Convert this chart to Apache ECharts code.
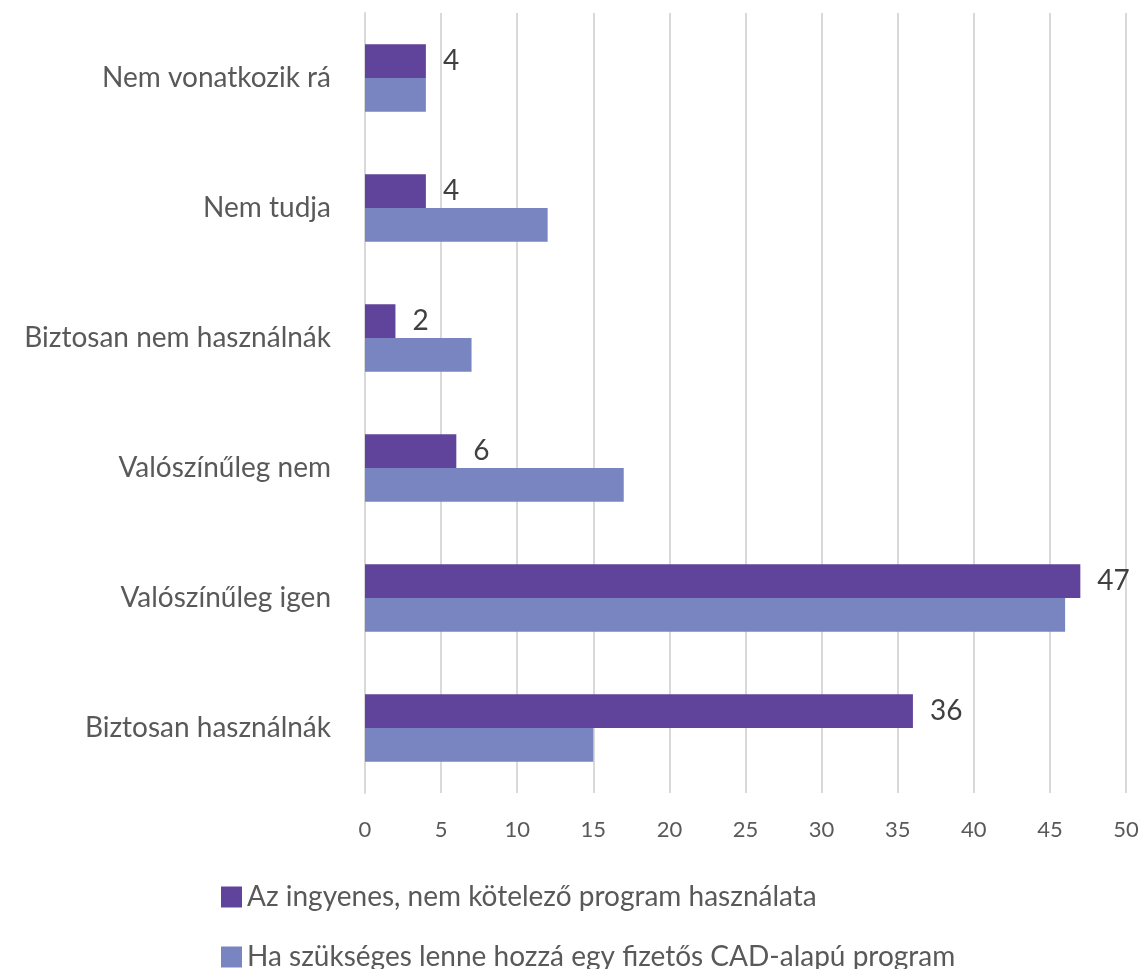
<!DOCTYPE html>
<html>
<head>
<meta charset="utf-8">
<script src="https://cdn.jsdelivr.net/npm/echarts@6/dist/echarts.min.js"></script>
<style>
  html, body { margin: 0; padding: 0; background: #fff; }
  #chart { width: 1143px; height: 969px; }
</style>
</head>
<body>
<div id="chart"></div>
<script>
// categories top to bottom
var categories = ['Nem vonatkozik rá', 'Nem tudja', 'Biztosan nem használnák', 'Valószínűleg nem', 'Valószínűleg igen', 'Biztosan használnák'];
var seriesNames = ['Az ingyenes, nem kötelező program használata', 'Ha szükséges lenne hozzá egy fizetős CAD-alapú program'];
var freeValues = [4, 4, 2, 6, 47, 36];
var paidValues = [4, 12, 7, 17, 46, 15];

var font = 'Lato, "Open Sans", sans-serif';
var legendBase = {
  orient: 'horizontal',
  left: 216,
  itemWidth: 21,
  itemHeight: 21,
  icon: 'rect',
  textStyle: { fontSize: 28, color: '#595959', fontFamily: font }
};
var chart = echarts.init(document.getElementById('chart'));
chart.setOption({
  animation: false,
  textStyle: { fontFamily: font },
  grid: { left: 365, right: 17, top: 13, bottom: 176, containLabel: false },
  legend: [
    Object.assign({}, legendBase, { top: 878, data: [seriesNames[0]] }),
    Object.assign({}, legendBase, { top: 938, data: [seriesNames[1]] })
  ],
  xAxis: {
    type: 'value',
    min: 0, max: 50, interval: 5,
    axisLine: { show: false },
    axisTick: { show: false },
    axisLabel: { fontSize: 22, color: '#595959', margin: 26 },
    splitLine: { lineStyle: { color: '#d9d9d9', width: 2 } }
  },
  yAxis: {
    type: 'category',
    inverse: true,
    data: categories,
    axisLine: { lineStyle: { color: '#d9d9d9', width: 2 } },
    axisTick: { show: false },
    axisLabel: { fontSize: 28, color: '#595959', margin: 34 }
  },
  series: [
    {
      name: seriesNames[0],
      type: 'bar',
      data: freeValues,
      barGap: '0%',
      barCategoryGap: '48%',
      itemStyle: { color: '#60439a' },
      label: { show: true, position: 'right', distance: 17, fontSize: 28, color: '#404040' }
    },
    {
      name: seriesNames[1],
      type: 'bar',
      data: paidValues,
      barGap: '0%',
      barCategoryGap: '48%',
      itemStyle: { color: '#7985c1' }
    }
  ]
});
</script>
</body>
</html>
